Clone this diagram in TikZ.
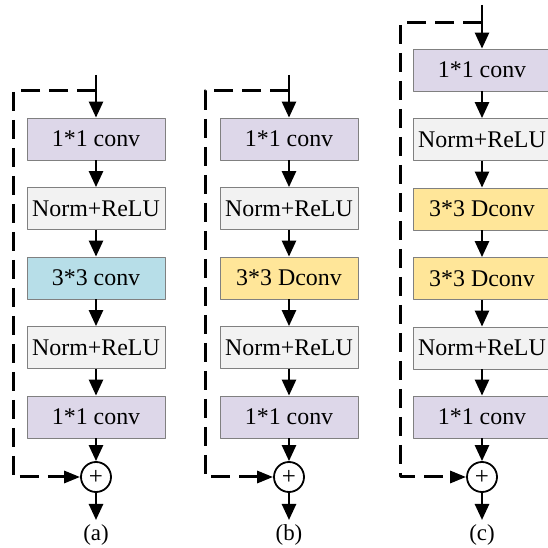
\documentclass[tikz,border=0pt]{standalone}
\usepackage{fontspec}
\setmainfont{Liberation Serif}
\newfontfamily\boxfont{Liberation Serif}
\usetikzlibrary{arrows.meta}

\definecolor{convcol}{RGB}{221,215,233}
\definecolor{normcol}{RGB}{242,242,242}
\definecolor{blockcol}{RGB}{183,222,232}
\definecolor{dconvcol}{RGB}{255,230,153}
\definecolor{edgecol}{RGB}{128,128,128}

\begin{document}
\begin{tikzpicture}[>={Triangle[length=16bp,width=14bp]},line join=bevel,
  layer/.style={draw=edgecol,line width=0.8bp,minimum width=138bp,minimum height=42bp,
    inner sep=0pt,font=\boxfont\fontsize{24}{28}\selectfont},
  conv/.style={layer,fill=convcol},
  norm/.style={layer,fill=normcol},
  conv3/.style={layer,fill=blockcol},
  dconv/.style={layer,fill=dconvcol},
  add/.style={draw,circle,line width=1.8bp,minimum size=30bp,inner sep=0pt,
    font=\boxfont\fontsize{25}{25}\selectfont},
  flow/.style={->,line width=2.6bp},
  skip/.style={->,line width=3bp,dash pattern=on 19bp off 9bp},
  skiptip/.style={->,>={Triangle[length=16bp,width=12bp]}},
  tag/.style={font=\boxfont\fontsize{23}{26}\selectfont},
]
  \useasboundingbox (0bp,0bp) rectangle (548bp,548bp);
%%
  % Block (a)
  \coordinate (a-in) at (96bp,473bp);
  \coordinate (a-split) at (96bp,457bp);
  \node[conv]  (a1) at (96bp,409bp)   {1*1 conv};
  \node[norm]  (a2) at (96bp,339.5bp) {Norm+ReLU};
  \node[conv3] (a3) at (96bp,270bp)   {3*3 conv};
  \node[norm]  (a4) at (96bp,200.5bp) {Norm+ReLU};
  \node[conv]  (a5) at (96bp,131bp)   {1*1 conv};
  \node[add]   (a-add) at (96bp,71bp) {+};
  \coordinate (a-out) at (96bp,28bp);
  \node[tag] (a-tag) at (96bp,13bp) {(a)};
  % Edge: chain (a)
  \draw[flow] (a-in) -- (a1);
  \draw[flow] (a1) -- (a2);
  \draw[flow] (a2) -- (a3);
  \draw[flow] (a3) -- (a4);
  \draw[flow] (a4) -- (a5);
  \draw[flow] (a5) -- (a-add);
  \draw[flow] (a-add) -- (a-out);
  % Edge: shortcut (a)
  \draw[skip,skiptip] (a-split) -- ++(-83bp,0) |- (a-add.west);
%%
  % Block (b)
  \coordinate (b-in) at (289bp,473bp);
  \coordinate (b-split) at (289bp,457bp);
  \node[conv]  (b1) at (289bp,409bp)   {1*1 conv};
  \node[norm]  (b2) at (289bp,339.5bp) {Norm+ReLU};
  \node[dconv] (b3) at (289bp,270bp)   {3*3 Dconv};
  \node[norm]  (b4) at (289bp,200.5bp) {Norm+ReLU};
  \node[conv]  (b5) at (289bp,131bp)   {1*1 conv};
  \node[add]   (b-add) at (289bp,71bp) {+};
  \coordinate (b-out) at (289bp,28bp);
  \node[tag] (b-tag) at (289bp,13bp) {(b)};
  % Edge: chain (b)
  \draw[flow] (b-in) -- (b1);
  \draw[flow] (b1) -- (b2);
  \draw[flow] (b2) -- (b3);
  \draw[flow] (b3) -- (b4);
  \draw[flow] (b4) -- (b5);
  \draw[flow] (b5) -- (b-add);
  \draw[flow] (b-add) -- (b-out);
  % Edge: shortcut (b)
  \draw[skip,skiptip] (b-split) -- ++(-84bp,0) |- (b-add.west);
%%
  % Block (c)
  \coordinate (c-in) at (482bp,543bp);
  \coordinate (c-split) at (482bp,525bp);
  \node[conv]  (c1) at (482bp,478bp)   {1*1 conv};
  \node[norm]  (c2) at (482bp,408.5bp) {Norm+ReLU};
  \node[dconv] (c3) at (482bp,339bp)   {3*3 Dconv};
  \node[dconv] (c4) at (482bp,269.5bp) {3*3 Dconv};
  \node[norm]  (c5) at (482bp,200bp)   {Norm+ReLU};
  \node[conv]  (c6) at (482bp,131bp)   {1*1 conv};
  \node[add]   (c-add) at (482bp,71bp) {+};
  \coordinate (c-out) at (482bp,28bp);
  \node[tag] (c-tag) at (482bp,13bp) {(c)};
  % Edge: chain (c)
  \draw[flow] (c-in) -- (c1);
  \draw[flow] (c1) -- (c2);
  \draw[flow] (c2) -- (c3);
  \draw[flow] (c3) -- (c4);
  \draw[flow] (c4) -- (c5);
  \draw[flow] (c5) -- (c6);
  \draw[flow] (c6) -- (c-add);
  \draw[flow] (c-add) -- (c-out);
  % Edge: shortcut (c)
  \draw[skip,skiptip] (c-split) -- ++(-82bp,0) |- (c-add.west);
%
\end{tikzpicture}
\end{document}
